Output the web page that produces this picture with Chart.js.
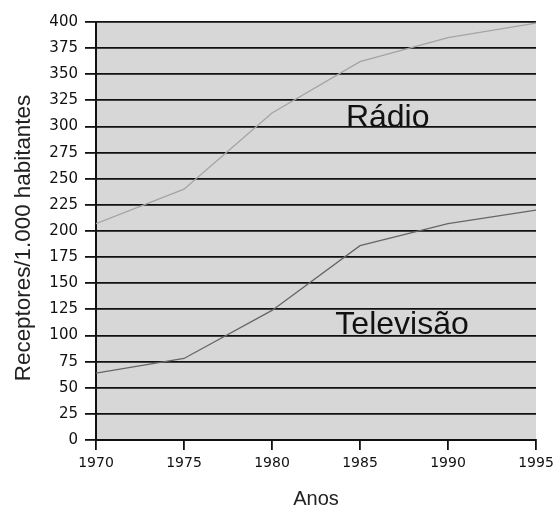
<!DOCTYPE html>
<html>
<head>
<meta charset="utf-8">
<script src="https://cdn.jsdelivr.net/npm/chart.js@4"></script>
<style>
  html, body { margin: 0; padding: 0; background: #fff; }
</style>
</head>
<body>
<canvas id="Canvas" width="554" height="511"></canvas>
<script>
const years = [1970, 1975, 1980, 1985, 1990, 1995];
const radio = [207, 240, 313, 362, 385, 399];
const tv = [64, 78, 124, 186, 207, 220];

// series names written inside the plot
const labelNames = ["Rádio", "Televisão"];
const labelAt = [[1984.2, 300], [1983.6, 101]];
const yTitle = "Receptores/1.000 habitantes";

const ctx = document.getElementById("Canvas").getContext("2d");

const plotBg = {
  id: "plotBg",
  beforeDraw(chart) {
    const a = chart.chartArea;
    const c = chart.ctx;
    c.save();
    c.fillStyle = "#d7d7d7";
    c.fillRect(a.left, a.top, a.right - a.left, a.bottom - a.top);
    c.restore();
  }
};

const seriesText = {
  id: "seriesText",
  afterDatasetsDraw(chart) {
    const c = chart.ctx;
    const x = chart.scales.x, y = chart.scales.y;
    c.save();
    c.font = "32px 'Liberation Sans', Arial, sans-serif";
    c.fillStyle = "#111";
    c.textBaseline = "alphabetic";
    c.textAlign = "left";
    labelNames.forEach((t, i) => {
      c.fillText(t, x.getPixelForValue(labelAt[i][0]), y.getPixelForValue(labelAt[i][1]));
    });
    // y axis title, sits a bit below the middle of the axis in the original
    c.translate(23.5, 238);
    c.rotate(-Math.PI / 2);
    c.font = "22.4px 'Liberation Sans', Arial, sans-serif";
    c.fillStyle = "#222";
    c.textAlign = "center";
    c.textBaseline = "middle";
    c.fillText(yTitle, 0, 0);
    c.restore();
  }
};

const myChart = new Chart(ctx, {
  type: "line",
  data: {
    datasets: [{
      label: "Rádio",
      data: years.map((yr, i) => ({ x: yr, y: radio[i] })),
      borderColor: "#a4a4a4",
      borderWidth: 1.3,
      pointRadius: 0,
      tension: 0
    }, {
      label: "Televisão",
      data: years.map((yr, i) => ({ x: yr, y: tv[i] })),
      borderColor: "#666",
      borderWidth: 1.3,
      pointRadius: 0,
      tension: 0
    }]
  },
  options: {
    responsive: false,
    animation: false,
    layout: { padding: { left: 0, top: 22, right: 18, bottom: 0 } },
    plugins: { legend: { display: false }, tooltip: { enabled: false } },
    scales: {
      x: {
        type: "linear",
        min: 1970,
        max: 1995,
        ticks: {
          stepSize: 5,
          padding: 5,
          color: "#111",
          maxRotation: 0,
          font: { family: "'DejaVu Sans'", size: 14 },
          callback: v => String(v)
        },
        grid: { drawOnChartArea: false, drawTicks: true, tickLength: 10, color: "#111", lineWidth: 1.8 },
        border: { display: true, color: "#111", width: 2 },
        title: {
          display: true,
          text: "Anos",
          color: "#222",
          font: { family: "'Liberation Sans'", size: 20 },
          padding: { top: 0, bottom: 0 }
        },
        afterFit(s) { s.height = 71; s.paddingLeft = 0; s.paddingRight = 0; }
      },
      y: {
        min: 0,
        max: 400,
        ticks: {
          stepSize: 25,
          padding: 7,
          color: "#111",
          font: { family: "'DejaVu Sans'", size: 15 }
        },
        grid: { color: "#111", lineWidth: 1.8, tickLength: 11 },
        border: { display: true, color: "#111", width: 2 },
        afterFit(s) { s.width = 96; s.paddingTop = 0; s.paddingBottom = 0; }
      }
    }
  },
  plugins: [plotBg, seriesText]
});
</script>
</body>
</html>
